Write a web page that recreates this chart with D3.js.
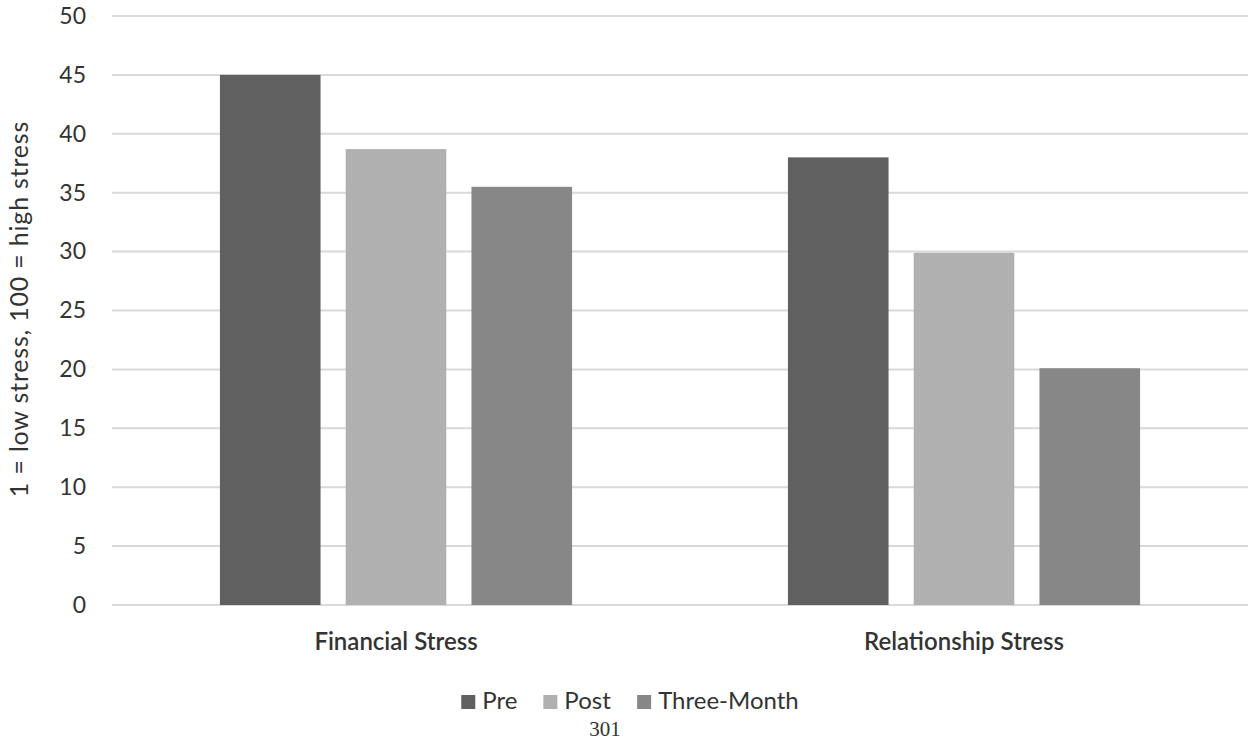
<!DOCTYPE html>
<html>
<head>
<meta charset="utf-8">
<script src="https://cdn.jsdelivr.net/npm/d3@7"></script>
<style>
  html, body { margin: 0; padding: 0; background: #fff; }
  svg { display: block; }
  text { font-family: Lato, "Open Sans", sans-serif; fill: #333; }
</style>
</head>
<body>
<svg id="chart" width="1255" height="749"></svg>
<script>
// Stress scores by measurement point
const categories = ["Financial Stress", "Relationship Stress"];
const seriesNames = ["Pre", "Post", "Three-Month"];
const preValues = [45.0, 38.0];
const postValues = [38.7, 29.9];
const threeMonthValues = [35.5, 20.1];
const yTicks = [0, 5, 10, 15, 20, 25, 30, 35, 40, 45, 50];
const seriesColors = ["#606060", "#b0b0b0", "#878787"];

const seriesValues = [preValues, postValues, threeMonthValues];

const svg = d3.select("#chart");
const plot = { left: 112, right: 1248, top: 16, bottom: 605 };

const y = d3.scaleLinear().domain([0, 50]).range([plot.bottom, plot.top]);
const x0 = d3.scaleBand().domain(categories).range([plot.left, plot.right]);
const groupWidth = x0.bandwidth() * 0.62;
const x1 = d3.scaleBand().domain(seriesNames).range([0, groupWidth]).paddingInner(0.2);
const color = d3.scaleOrdinal().domain(seriesNames).range(seriesColors);

// Horizontal gridlines
svg.append("g")
  .selectAll("line")
  .data(yTicks)
  .join("line")
  .attr("x1", plot.left)
  .attr("x2", plot.right)
  .attr("y1", d => y(d))
  .attr("y2", d => y(d))
  .attr("stroke", "#d9d9d9")
  .attr("stroke-width", 2);

// Y axis tick labels
const yAxis = d3.axisLeft(y).tickValues(yTicks).tickSize(0).tickPadding(0);
const yG = svg.append("g")
  .attr("transform", `translate(${plot.left - 26},0)`)
  .call(yAxis);
yG.select(".domain").remove();
yG.selectAll("text")
  .style("font-family", "Lato, 'Open Sans', sans-serif")
  .style("font-size", "23px")
  .attr("fill", "#333");

// Y axis title
svg.append("text")
  .attr("transform", `translate(28,${309}) rotate(-90)`)
  .attr("text-anchor", "middle")
  .style("font-size", "25px")
  .style("letter-spacing", "0.8px")
  .text("1 = low stress, 100 = high stress");

// Bars
const groups = svg.append("g")
  .selectAll("g")
  .data(categories)
  .join("g")
  .attr("transform", c => `translate(${x0(c) + (x0.bandwidth() - groupWidth) / 2},0)`);

groups.selectAll("rect")
  .data((c, i) => seriesNames.map((s, k) => ({ series: s, value: seriesValues[k][i] })))
  .join("rect")
  .attr("x", d => x1(d.series))
  .attr("width", x1.bandwidth())
  .attr("y", d => y(d.value))
  .attr("height", d => y(0) - y(d.value))
  .attr("fill", d => color(d.series));

// Category labels
const xAxis = d3.axisBottom(x0).tickSize(0).tickPadding(0);
const xG = svg.append("g")
  .attr("transform", `translate(0,${plot.bottom + 45})`)
  .call(xAxis);
xG.select(".domain").remove();
xG.selectAll("text")
  .attr("y", 0)
  .attr("dy", 0)
  .style("font-family", "Lato, 'Open Sans', sans-serif")
  .style("font-size", "24px")
  .style("font-weight", "600")
  .attr("fill", "#2a2a2a");

// Legend
const legend = svg.append("g").attr("transform", "translate(0,709)");
const legendItems = legend.selectAll("g")
  .data(seriesNames)
  .join("g");
legendItems.append("rect")
  .attr("y", -14)
  .attr("width", 14)
  .attr("height", 14)
  .attr("fill", d => color(d));
legendItems.append("text")
  .attr("x", 21)
  .style("font-size", "24px")
  .text(d => d);
const widths = legendItems.nodes().map(n => n.getBBox().width);
const gap = 26;
const total = d3.sum(widths) + gap * (widths.length - 1);
let lx = 630 - total / 2;
legendItems.attr("transform", (d, i) => {
  const t = `translate(${lx},0)`;
  lx += widths[i] + gap;
  return t;
});

// Page number
svg.append("text")
  .attr("x", 605)
  .attr("y", 736)
  .attr("text-anchor", "middle")
  .style("font-family", "'Liberation Serif', 'DejaVu Serif', serif")
  .style("font-size", "21px")
  .text("301");
</script>
</body>
</html>
